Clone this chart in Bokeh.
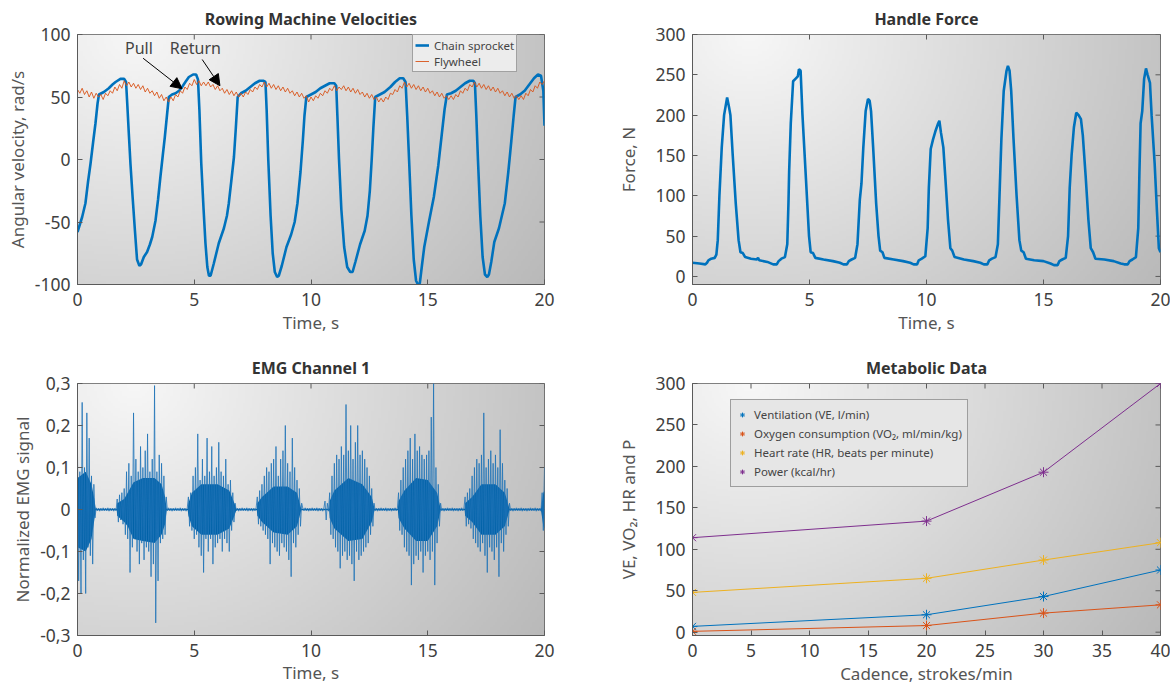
import numpy as np
from bokeh.plotting import figure
from bokeh.layouts import column, row
from bokeh.models import (FixedTicker, Legend, LegendItem, Arrow, NormalHead, Label, Range1d)
from bokeh.embed import file_html
from bokeh.resources import INLINE

FONT = "Noto Sans"
BLUE = "#0072BD"
EMG_CORE = "#0062A8"
ORANGE = "#D95319"
YELLOW = "#EDB120"
PURPLE = "#7E2F8E"
TXT = "#404040"
FRAME = "#5a5a5a"

# ---------------- Rowing machine velocities ----------------
chain_t = [0.0, 0.1, 0.2, 0.34, 0.45, 0.56, 0.67, 0.77, 0.86, 0.92, 1.13, 1.34, 1.5, 1.63, 1.84, 2.0, 2.08,
           2.13, 2.2, 2.27, 2.36, 2.46, 2.55, 2.65, 2.72, 2.84, 2.98, 3.1, 3.2, 3.34, 3.45, 3.55, 3.65, 3.74,
           3.83, 3.91, 4.05, 4.2, 4.35, 4.48, 4.62, 4.77, 4.95, 5.08, 5.16,
           5.22, 5.3, 5.4, 5.48, 5.56, 5.63, 5.7, 5.84, 6.05, 6.27, 6.4, 6.48, 6.6, 6.7, 6.78, 6.86, 7.0, 7.2,
           7.4, 7.6, 7.8, 7.95, 8.05,
           8.1, 8.17, 8.27, 8.36, 8.45, 8.55, 8.62, 8.75, 8.95, 9.15, 9.3, 9.42, 9.55, 9.65, 9.72, 9.8, 10.0,
           10.2, 10.4, 10.6, 10.8, 11.0, 11.08,
           11.13, 11.2, 11.3, 11.42, 11.55, 11.68, 11.78, 11.9, 12.1, 12.3, 12.42, 12.52, 12.6, 12.67, 12.75,
           12.95, 13.15, 13.4, 13.6, 13.8, 13.95, 14.05,
           14.12, 14.2, 14.3, 14.4, 14.5, 14.58, 14.66, 14.75, 14.85, 15.05, 15.26, 15.45, 15.6, 15.72, 15.82,
           16.0, 16.2, 16.4, 16.6, 16.8, 16.95, 17.02,
           17.08, 17.15, 17.25, 17.35, 17.45, 17.55, 17.62, 17.72, 17.85, 18.05, 18.3, 18.45, 18.58, 18.68,
           18.76, 18.95, 19.15, 19.35, 19.55, 19.72, 19.85, 19.95, 20.0]
chain_v = [-58, -52, -46, -35, -18, -3, 14, 29, 45, 52, 54, 57, 60, 62, 64.5, 64.5, 62,
           45, 20, -4, -30, -57, -80, -85, -84, -78, -74, -68, -62, -49, -32, -14, 3, 18,
           35, 50, 52, 53, 55, 58, 62, 66, 68, 68, 64,
           40, -3, -40, -67, -86, -93, -93, -83, -67, -55, -45, -35, -15, 2, 25, 50, 53, 55,
           58, 61, 63, 63, 62,
           40, 0, -45, -75, -90, -94, -93, -85, -70, -60, -50, -35, -10, 15, 35, 50, 52,
           54, 57, 59, 61, 61, 59,
           35, 0, -40, -70, -86, -90, -90, -82, -68, -57, -45, -25, 0, 25, 50,
           52, 54, 58, 62, 65, 65, 62,
           35, 0, -45, -80, -97, -100, -99, -85, -70, -50, -30, -5, 20, 40, 52,
           53, 55, 58, 61, 63, 63, 61,
           35, 0, -45, -78, -92, -94, -92, -82, -66, -55, -35, -10, 15, 35,
           50, 52, 55, 60, 65, 68, 67, 55, 27]

flywheel_step = 0.1  # s between flywheel samples
flywheel_v = [56, 53, 57, 52, 55, 50, 54, 49, 53, 50, 52, 48, 53, 51, 55, 53, 58, 55, 60, 57,
              63, 59, 62, 58, 61, 57, 60, 56, 59, 54, 57, 53, 55, 51, 54, 49, 52, 47, 50, 46,
              50, 47, 52, 50, 55, 53, 58, 56, 61, 59, 64, 60, 63, 59, 62, 59, 62, 58, 60, 56,
              59, 55, 57, 53, 56, 52, 55, 51, 54, 50, 53, 50, 54, 52, 56, 54, 58, 56, 60, 58,
              62, 58, 61, 57, 60, 56, 59, 55, 58, 54, 57, 53, 55, 51, 54, 50, 53, 49, 51, 46,
              50, 47, 51, 49, 53, 51, 55, 53, 57, 55, 59, 55, 58, 56, 59, 55, 58, 54, 57, 53,
              56, 52, 54, 50, 53, 49, 52, 48, 50, 46, 49, 46, 50, 48, 53, 52, 56, 54, 59, 57,
              62, 58, 61, 57, 60, 56, 59, 55, 58, 54, 57, 53, 55, 51, 54, 50, 53, 49, 51, 48,
              51, 48, 52, 50, 55, 53, 57, 55, 60, 58, 62, 58, 61, 57, 60, 56, 59, 55, 58, 54,
              57, 53, 55, 51, 54, 50, 53, 49, 51, 48, 51, 48, 53, 51, 56, 54, 59, 57, 62, 60,
              63]

# ---------------- Handle force ----------------
force_t = [0.0, 0.3, 0.55, 0.62, 0.68, 0.8, 0.95, 1.02, 1.08, 1.15, 1.25, 1.35, 1.48, 1.56, 1.62, 1.72,
           1.85, 1.97, 2.05, 2.15, 2.25, 2.5, 2.75, 2.8, 2.85, 3.2, 3.45, 3.6, 3.68, 3.8, 3.95, 4.05,
           4.1, 4.13, 4.2, 4.3, 4.4, 4.5, 4.55, 4.62, 4.7, 4.85, 4.98, 5.05, 5.15, 5.25, 5.6, 6.0,
           6.3, 6.45, 6.6, 6.68, 6.8, 6.95, 7.05, 7.15, 7.22, 7.3, 7.4, 7.5, 7.57, 7.63, 7.72, 7.85,
           7.95, 8.02, 8.12, 8.2, 8.6, 9.0, 9.3, 9.45, 9.6, 9.67, 9.8, 9.95, 10.05, 10.1, 10.18,
           10.28, 10.38, 10.5, 10.55, 10.62, 10.72, 10.8, 10.92, 11.02, 11.1, 11.2, 11.6, 12.0,
           12.3, 12.45, 12.6, 12.68, 12.8, 12.95, 13.05, 13.12, 13.2, 13.3, 13.42, 13.48, 13.55,
           13.62, 13.72, 13.85, 13.97, 14.05, 14.15, 14.25, 14.6, 15.0, 15.3, 15.45, 15.6, 15.68,
           15.8, 15.95, 16.05, 16.12, 16.2, 16.3, 16.4, 16.5, 16.6, 16.68, 16.8, 16.92, 17.02,
           17.12, 17.22, 17.6, 18.0, 18.3, 18.45, 18.6, 18.68, 18.8, 18.95, 19.05, 19.1, 19.15,
           19.22, 19.3, 19.38, 19.45, 19.55, 19.62, 19.75, 19.85, 19.93, 20.0]
force_v = [17, 16, 15, 17, 20, 22, 23, 27, 45, 100, 160, 200, 222, 210, 200, 150,
           90, 45, 30, 29, 24, 22, 21, 23, 20, 18, 15, 15, 19, 22, 24, 40,
           90, 130, 190, 242, 245, 248, 257, 255, 200, 120, 50, 30, 29, 23, 21, 19,
           17, 15, 15, 19, 21, 23, 40, 95, 115, 160, 205, 220, 218, 205, 160, 90,
           50, 32, 30, 23, 21, 19, 17, 15, 15, 20, 22, 25, 60, 110, 158,
           170, 180, 190, 193, 178, 160, 125, 70, 35, 32, 24, 21, 19,
           17, 15, 15, 20, 22, 24, 40, 100, 170, 230, 255, 261, 255,
           230, 170, 100, 45, 32, 30, 22, 20, 19, 16, 14, 14, 19,
           21, 23, 50, 110, 150, 185, 203, 200, 195, 175, 125, 70, 35,
           30, 22, 21, 19, 16, 15, 15, 19, 21, 24, 60, 130, 190,
           205, 245, 258, 250, 240, 200, 140, 80, 35, 30]

# ---------------- EMG channel 1 ----------------
# dense core of the signal (upper / lower edge)
emg_core_t = [0.0, 0.35, 0.6, 0.72, 0.78, 1.68,
              1.7, 2.0, 2.15, 2.4, 2.8, 3.3, 3.6, 3.75, 3.82, 4.72,
              4.75, 4.9, 5.3, 6.0, 6.5, 6.72, 6.8, 7.68,
              7.7, 7.9, 8.4, 9.0, 9.4, 9.58, 10.78,
              10.8, 11.0, 11.6, 12.2, 12.6, 12.72, 13.72,
              13.75, 14.0, 14.5, 15.0, 15.4, 15.55, 16.58,
              16.6, 16.9, 17.3, 17.9, 18.3, 18.5, 19.85,
              19.95, 20.0]
emg_core_hi = [0.075, 0.09, 0.06, 0.025, 0.002, 0.002,
               0.015, 0.025, 0.04, 0.065, 0.075, 0.075, 0.06, 0.03, 0.002, 0.002,
               0.015, 0.04, 0.06, 0.06, 0.045, 0.015, 0.002, 0.002,
               0.015, 0.03, 0.055, 0.055, 0.04, 0.002, 0.002,
               0.02, 0.045, 0.075, 0.06, 0.03, 0.002, 0.002,
               0.02, 0.045, 0.075, 0.07, 0.04, 0.002, 0.002,
               0.015, 0.03, 0.06, 0.06, 0.04, 0.002, 0.002,
               0.04, 0.045]
emg_core_lo = [-0.09, -0.1, -0.07, -0.025, -0.002, -0.002,
               -0.015, -0.03, -0.04, -0.07, -0.075, -0.08, -0.06, -0.035, -0.002, -0.002,
               -0.015, -0.04, -0.06, -0.06, -0.045, -0.015, -0.002, -0.002,
               -0.015, -0.03, -0.055, -0.06, -0.04, -0.002, -0.002,
               -0.02, -0.045, -0.075, -0.07, -0.03, -0.002, -0.002,
               -0.02, -0.045, -0.075, -0.075, -0.04, -0.002, -0.002,
               -0.015, -0.03, -0.06, -0.06, -0.04, -0.002, -0.002,
               -0.04, -0.045]
# raw samples in thousandths, one every 0.05 s
emg_step = 0.05
emg_milli = [
    130, -170, 90, -200, 255, -120, 100, -200, 230, -90, 170, -110, 80, -130, 60, -20,
    4, -3, 3, -4, 3, -3, 4, -3, 3, -3, 4, -4, 3, -3, 3, -4, 3, -3,
    25, -30, 35, -25, 40, -35, 50, -60, 90, -70, 110, -150, 80, -90, 230, -70, 120, -100, 90, -130,
    150, -80, 100, -120, 140, -90, 180, -100, 90, -160, 120, -130, 295, -270, 90, -170, 130, -80,
    110, -70, 80, -60, 30,
    -3, 4, -3, 3, -4, 3, -3, 4, -3, 3, -3, 4, -4, 3, -3, 3, -4, 3,
    30, -40, 40, -50, 80, -70, 100, -60, 180, -90, 70, -110, 120, -150, 80, -70, 170, -100, 90, -70,
    150, -130, 80, -90, 100, -80, 160, -70, 90, -100, 80, -70, 120, -80, 60, -100, 70, -50, 40, -30, 15,
    -3, 3, -4, 3, -3, 4, -3, 3, -3, 4, -4, 3, -3, 3, -4, 3, -3, 4,
    30, -35, 45, -40, 60, -50, 80, -60, 100, -70, 90, -130, 110, -80, 120, -90, 150, -100, 80, -110,
    120, -80, 140, -90, 200, -100, 110, -120, 90, -160, 170, -80, 100, -90, 70, -60, 50, -40, 15,
    3, -3, 4, -3, 3, -4, 3, -3, 4, -3, 3, -3, 4, -4, 3, -3, 3, -4, 3, 20, -25, 15, -4,
    40, -60, 80, -70, 110, -90, 130, -100, 120, -140, 150, -110, 130, -100, 250, -120, 140, -110, 200, -130,
    120, -170, 160, -100, 200, -120, 130, -110, 140, -100, 120, -90, 100, -80, 80, -60, 50, -40, 15,
    -3, 3, -4, 3, -3, 4, -3, 3, -3, 4, -4, 3, -3, 3, -4, 3, -3, 4, -3, 3,
    40, -50, 70, -60, 100, -90, 120, -100, 140, -110, 170, -180, 120, -130, 180, -110, 140, -120, 150, -100,
    130, -150, 120, -110, 130, -100, 140, -120, 220, -100, 300, -180, 100, -80, 60, -40, 15,
    -3, 3, -4, 3, -3, 4, -3, 3, -3, 4, -4, 3, -3, 3, -4, 3, -3, 4, -3, 3,
    30, -40, 40, -35, 50, -45, 80, -70, 100, -80, 120, -90, 110, -100, 130, -80, 230, -110, 100, -150,
    120, -90, 140, -100, 110, -120, 130, -90, 100, -160, 190, -80, 110, -100, 70, -60, 50, -40, 15,
    -3, 3, -4, 3, -3, 4, -3, 3, -3, 4, -4, 3, -3, 3, -4, 3, -3, 4, -3, 3, -3, 4, -4, 3, -3, 3, -4,
    40, -50, 100]

# ---------------- Metabolic data ----------------
cadence = [0, 20, 30, 40]
ventilation = [7, 21, 43, 75]
oxygen = [1, 8, 23, 33]
heart_rate = [48, 65, 87, 108]
power = [114, 134, 193, 300]

# tick positions / labels
vel_ticks = [-100, -50, 0, 50, 100]
vel_labels = ["-100", "-50", "0", "50", "100"]
time_ticks = [0, 5, 10, 15, 20]
force_ticks = [0, 50, 100, 150, 200, 250, 300]
emg_ticks = [-0.3, -0.2, -0.1, 0, 0.1, 0.2, 0.3]
emg_labels = ["-0,3", "-0,2", "-0,1", "0", "0,1", "0,2", "0,3"]
cad_ticks = [0, 5, 10, 15, 20, 25, 30, 35, 40]
met_ticks = [0, 50, 100, 150, 200, 250, 300]

TICK_PX = 5


def gradient():
    nx, ny = 200, 100
    X, Y = np.meshgrid(np.linspace(0, 1, nx), np.linspace(0, 1, ny))
    d = np.sqrt((X - 0.12) ** 2 + ((1 - Y) * 0.6) ** 2)
    L = np.clip(247 - 58 * d, 0, 255).astype(np.uint32)
    return ((255 << 24) | (L << 16) | (L << 8) | L).astype(np.uint32)


def style_axis(ax, ticks, labels=None, label_standoff=5):
    ax.ticker = FixedTicker(ticks=ticks)
    if labels is not None:
        ax.major_label_overrides = {t: l for t, l in zip(ticks, labels)}
    ax.major_tick_in = TICK_PX
    ax.major_tick_out = 0
    ax.minor_tick_in = 0
    ax.minor_tick_out = 0
    ax.axis_line_color = FRAME
    ax.major_tick_line_color = FRAME
    ax.major_label_text_font = FONT
    ax.major_label_text_color = TXT
    ax.major_label_text_font_size = "17.5px"
    ax.axis_label_text_font = FONT
    ax.axis_label_text_font_style = "normal"
    ax.axis_label_text_color = "#555555"
    ax.axis_label_text_font_size = "17px"
    ax.axis_label_standoff = label_standoff


def make_fig(width, height, xr, yr, bl, br, bt, bb, title, xticks, yticks,
             xlabels=None, ylabels=None, xlabel="", ylabel="", xlab_stand=2, ylab_stand=3):
    p = figure(width=width, height=height, x_range=Range1d(*xr), y_range=Range1d(*yr),
               output_backend="svg", toolbar_location=None, title=title,
               min_border_left=bl, min_border_right=br, min_border_top=bt, min_border_bottom=bb)
    p.border_fill_color = "white"
    p.background_fill_color = "white"
    p.outline_line_color = FRAME
    p.xgrid.visible = False
    p.ygrid.visible = False
    p.title.align = "center"
    p.title.text_font = FONT
    p.title.text_font_size = "16px"
    p.title.text_font_style = "bold"
    p.title.text_color = "#333333"
    p.image_rgba(image=[gradient()], x=xr[0], y=yr[0], dw=xr[1] - xr[0], dh=yr[1] - yr[0],
                 level="image")
    style_axis(p.xaxis[0], xticks, xlabels, xlab_stand)
    style_axis(p.yaxis[0], yticks, ylabels, ylab_stand)
    p.xaxis[0].major_label_standoff = 8
    p.yaxis[0].major_label_standoff = 7
    p.xaxis[0].axis_label = xlabel
    p.yaxis[0].axis_label = ylabel
    # inward box ticks on the top and right edges
    fw = width - bl - br
    fh = height - bt - bb
    dy = TICK_PX * (yr[1] - yr[0]) / fh
    dx = TICK_PX * (xr[1] - xr[0]) / fw
    p.segment(x0=xticks, x1=xticks, y0=[yr[1]] * len(xticks), y1=[yr[1] - dy] * len(xticks),
              line_color=FRAME, line_width=1)
    p.segment(x0=[xr[1]] * len(yticks), x1=[xr[1] - dx] * len(yticks), y0=yticks, y1=yticks,
              line_color=FRAME, line_width=1)
    return p


W1, W2 = 588, 582
H1, H2 = 346, 342

# ---- figure 1
p1 = make_fig(W1, H1, (0, 20), (-100, 100), 77, 44, 34, 62, "Rowing Machine Velocities",
              time_ticks, vel_ticks, ylabels=vel_labels,
              xlabel="Time, s", ylabel="Angular velocity, rad/s", ylab_stand=3)
fly_t = [round(i * flywheel_step, 2) for i in range(len(flywheel_v))]
r_chain = p1.line(chain_t, chain_v, line_color=BLUE, line_width=2.6)
r_fly = p1.line(fly_t, flywheel_v, line_color=ORANGE, line_width=0.9)
leg1 = Legend(items=[LegendItem(label="Chain sprocket", renderers=[r_chain]),
                     LegendItem(label="Flywheel", renderers=[r_fly])],
              location=(335, 212))
leg1.label_text_font = FONT
leg1.label_text_font_size = "11.5px"
leg1.label_text_color = "#444444"
leg1.border_line_color = "#555555"
leg1.background_fill_color = "#ececec"
leg1.background_fill_alpha = 1
leg1.padding = 2
leg1.spacing = 0
leg1.margin = 0
leg1.label_height = 16
leg1.glyph_height = 16
leg1.glyph_width = 14
leg1.label_standoff = 5
p1.add_layout(leg1)

pull_text = (2.63, 89)
pull_arrow = (2.81, 81, 4.48, 56.6)
return_text = (5.05, 89)
return_arrow = (5.34, 80, 6.1, 59)
for (tx, ty), (x0, y0, x1, y1), s in [(pull_text, pull_arrow, "Pull"),
                                       (return_text, return_arrow, "Return")]:
    p1.add_layout(Label(x=tx, y=ty, text=s, text_align="center", text_baseline="middle",
                        text_font=FONT, text_font_size="16px", text_color="#444444"))
    p1.add_layout(Arrow(x_start=x0, y_start=y0, x_end=x1, y_end=y1, line_color="black",
                        line_width=1,
                        end=NormalHead(size=11, fill_color="black", line_color="black")))

# ---- figure 2
p2 = make_fig(W2, H1, (0, 20), (-10, 300), 104, 10, 34, 62, "Handle Force",
              time_ticks, force_ticks, xlabel="Time, s", ylabel="Force, N", ylab_stand=12)
p2.line(force_t, force_v, line_color=BLUE, line_width=2.6)

# ---- figure 3
p3 = make_fig(W1, H2, (0, 20), (-0.3, 0.3), 77, 44, 37, 53, "EMG Channel 1",
              time_ticks, emg_ticks, ylabels=emg_labels,
              xlabel="Time, s", ylabel="Normalized EMG signal", ylab_stand=3, xlab_stand=1)
p3.varea(x=emg_core_t, y1=emg_core_lo, y2=emg_core_hi, fill_color=EMG_CORE)
emg_t = [round(i * emg_step, 2) for i in range(len(emg_milli))]
emg_v = [v / 1000.0 for v in emg_milli]
p3.line(emg_t, emg_v, line_color="#1f74b8", line_width=0.8)

# ---- figure 4
p4 = make_fig(W2, H2, (0, 40), (-4, 300), 104, 10, 37, 53, "Metabolic Data",
              cad_ticks, met_ticks, xlabel="Cadence, strokes/min", ylabel="VE, VO₂, HR and P",
              ylab_stand=12, xlab_stand=2)
items = []
for ys, col, lab in [(ventilation, BLUE, "Ventilation (VE, l/min)"),
                     (oxygen, ORANGE, "Oxygen consumption (VO₂, ml/min/kg)"),
                     (heart_rate, YELLOW, "Heart rate (HR, beats per minute)"),
                     (power, PURPLE, "Power (kcal/hr)")]:
    p4.line(cadence, ys, line_color=col, line_width=1)
    rs = p4.scatter(cadence, ys, marker="asterisk", size=10, line_color=col, line_width=1)
    items.append(LegendItem(label=lab, renderers=[rs]))
leg4 = Legend(items=items, location=(38, 148))
leg4.label_text_font = FONT
leg4.label_text_font_size = "11.5px"
leg4.label_text_color = "#444444"
leg4.border_line_color = "#555555"
leg4.background_fill_color = "#e6e6e6"
leg4.background_fill_alpha = 1
leg4.padding = 5
leg4.spacing = 0
leg4.margin = 0
leg4.label_height = 19
leg4.glyph_height = 19
leg4.glyph_width = 12
leg4.label_standoff = 6
p4.add_layout(leg4)

layout = column(row(p1, p2), row(p3, p4))
open("out.html", "w").write(file_html(layout, INLINE))
